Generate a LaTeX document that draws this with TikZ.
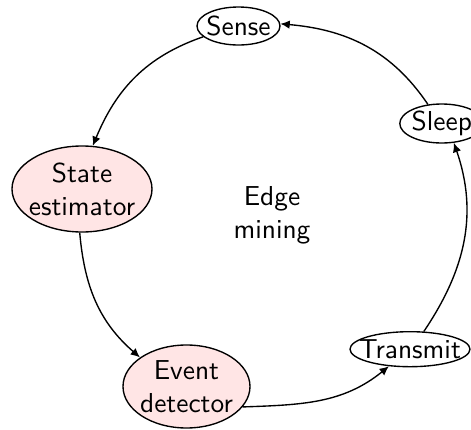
\documentclass[tikz,border=0pt]{standalone}
\usetikzlibrary{shapes.geometric,arrows.meta}
\begin{document}
\begin{tikzpicture}[x=0.365pt,y=0.365pt,font=\sffamily,line width=0.5pt,
  st/.style={ellipse, draw, inner sep=0pt, align=center},
  sz/.style 2 args={minimum width=#1*0.365pt, minimum height=#2*0.365pt},
  hl/.style={fill=red!10},
  arr/.style={-{Latex[length=3.4pt,width=3.1pt]}}]
\useasboundingbox (0,0) rectangle (471,430);
\node[st, sz={83}{38}] (sense) at (238.5,404) {\makebox[0pt]{Sense}};
\node[st, sz={84}{39}] (sleep) at (441.8,306.5) {\makebox[0pt]{Sleep}};
\node[st, sz={120}{35}] (transmit) at (410,80.8) {\makebox[0pt]{Transmit}};
\node[st, hl, sz={127}{83}] (event) at (186.5,43.5) {\makebox[0pt]{Event}\\\makebox[0pt]{detector}};
\node[st, hl, sz={140}{86}] (state) at (82,241) {\makebox[0pt]{State}\\\makebox[0pt]{estimator}};
\node[align=center] (edge) at (272,215) {Edge\\mining};
\draw[arr] (sense.197) to[out=199,in=67.5] (state.76);
\draw[arr] (state.267) to[out=275,in=139] (event.148);
\draw[arr] (event.340) to[out=2,in=219] (transmit.219);
\draw[arr] (transmit.52) to[out=56,in=289] (sleep.302);
\draw[arr] (sleep.126) to[out=124,in=355] (sense.3);
\end{tikzpicture}
\end{document}
